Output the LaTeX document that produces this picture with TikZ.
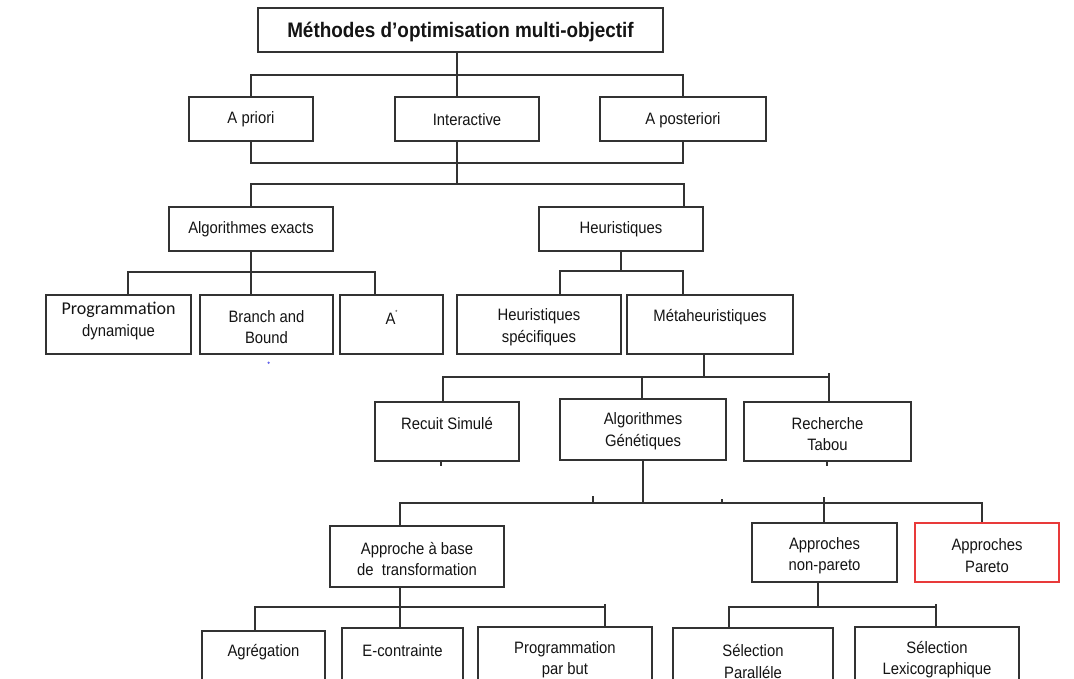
\documentclass[tikz,border=0pt]{standalone}
\usepackage{fontspec}
\setmainfont{Liberation Sans}[FakeStretch=0.9]
\newfontfamily\calib{Carlito}
\usetikzlibrary{calc}
\definecolor{ln}{RGB}{50,50,50}
\definecolor{tx}{RGB}{20,20,20}
\definecolor{redbox}{RGB}{232,58,58}
\definecolor{dotblue}{RGB}{100,100,235}
\tikzset{
  boxst/.style={draw=ln, line width=2pt, rectangle, inner sep=0pt},
  redst/.style={draw=redbox, line width=2pt},
  txt/.style={text=tx, font=\fontsize{16.5}{21.5}\selectfont, align=center, inner sep=0pt},
  conn/.style={draw=ln, line width=2pt},
  stub/.style={draw=ln, line width=1.5pt},
}
% [opts]{name}{x1}{y1}{x2}{y2}{text y}{text}
\newcommand\mkbox[8][]{%
  \node[boxst,#1,minimum width={(#5-#3)*1pt},minimum height={(#6-#4)*1pt}] (#2) at ({(#3+#5)/2},{(#4+#6)/2}) {};
  \node[txt] (#2-t) at ({(#3+#5)/2},#7) {#8};}
\begin{document}
\begin{tikzpicture}[x=1pt,y=-1pt]
\useasboundingbox (0,0) rectangle (1074,679);
\fill[white] (0,0) rectangle (1074,679);
\clip (0,0) rectangle (1074,679);

% boxes
\mkbox{title}{258}{8}{663}{52}{31.5}{\fontsize{21}{24}\selectfont\bfseries Méthodes d’optimisation multi-objectif}
\mkbox{apriori}{189}{97}{313}{141}{119.5}{A priori}
\mkbox{interactive}{395}{97}{539}{141}{119.5}{Interactive}
\mkbox{aposteriori}{600}{97}{766}{141}{120}{A posteriori}
\mkbox{exacts}{169}{207}{333}{251}{229.5}{Algorithmes exacts}
\mkbox{heur}{539}{207}{703}{251}{229.5}{Heuristiques}
\mkbox{progdyn}{46}{295}{191}{354}{321}{\calib\fontsize{18}{25.5}\selectfont Programmation\\dynamique}
\mkbox{branch}{200}{295}{333}{354}{327}{Branch and\\Bound}
\mkbox{aetoile}{340}{295}{443}{354}{317}{A\raisebox{0.6em}{\fontsize{6}{6}\selectfont *}}
\mkbox{hspec}{457}{295}{621}{354}{327}{Heuristiques\\spécifiques}
\mkbox{meta}{627}{295}{793}{354}{317}{Métaheuristiques}
\mkbox{recuit}{375}{402}{519}{461}{424}{Recuit Simulé}
\mkbox{ag}{560}{399}{726}{460}{431}{Algorithmes\\Génétiques}
\mkbox{tabou}{744}{402}{911}{461}{434}{Recherche\\Tabou}
\mkbox{approche}{330}{526}{504}{587}{559}{Approche à base\\de\ \ transformation}
\mkbox{nonpareto}{752}{523}{897}{582}{555.5}{Approches\\non-pareto}
\mkbox[redst]{pareto}{915}{523}{1059}{582}{555.5}{Approches\\Pareto}
\mkbox{agreg}{202}{631}{325}{700}{652.5}{Agrégation}
\mkbox{econt}{342}{628}{463}{700}{651}{E-contrainte}
\mkbox{pbut}{478}{627}{652}{700}{659.5}{Programmation\\par but}
\mkbox{spar}{673}{628}{833}{700}{661.5}{Sélection\\Paralléle}
\mkbox{slex}{855}{627}{1019}{700}{659.5}{Sélection\\Lexicographique}

% junction coordinates
\coordinate (b0) at (457,75);
\coordinate (b1) at (457,163);
\coordinate (b2) at (457,184);
\coordinate (h2) at (684,184);
\coordinate (b3) at (251,272);
\coordinate (b3l) at (128,272);
\coordinate (b3r) at (375,272);
\coordinate (b4) at (621,271);
\coordinate (b4l) at (560,271);
\coordinate (b4r) at (683,271);
\coordinate (b5) at (704,377);
\coordinate (b5l) at (443,377);
\coordinate (b5m) at (642,377);
\coordinate (b5r) at (829,377);
\coordinate (b6) at (643,503);
\coordinate (b6l) at (400,503);
\coordinate (b6m) at (824,503);
\coordinate (b6r) at (982,503);
\coordinate (b7) at (400,607);
\coordinate (b7l) at (255,607);
\coordinate (b7r) at (605,607);
\coordinate (b8) at (818,607);
\coordinate (b8l) at (729,607);
\coordinate (b8r) at (936,607);

% connectors
\draw[conn] (title.south -| b0) -- (interactive.north -| b0);
\draw[conn] (apriori.north -| b3) -- (b3 |- b0) -- (aposteriori.north |- b0) -- (aposteriori.north);
\draw[conn] (apriori.south -| b3) -- (b3 |- b1) -- (aposteriori.south |- b1) -- (aposteriori.south);
\draw[conn] (interactive.south -| b1) -- (b2);
\draw[conn] (exacts.north -| b3) -- (b3 |- b2) -- (h2) -- (heur.north -| h2);
\draw[conn] (exacts.south -| b3) -- (b3);
\draw[conn] (progdyn.north -| b3l) -- (b3l) -- (b3r) -- (aetoile.north -| b3r);
\draw[conn] (b3) -- (branch.north -| b3);
\draw[conn] (heur.south -| b4) -- (b4);
\draw[conn] (hspec.north -| b4l) -- (b4l) -- (b4r) -- (meta.north -| b4r);
\draw[conn] (meta.south -| b5) -- (b5);
\draw[conn] (recuit.north -| b5l) -- (b5l) -- (b5r) -- (tabou.north -| b5r);
\draw[conn] (b5m) -- (ag.north -| b5m);
\draw[conn] (ag.south -| b6) -- (b6);
\draw[conn] (approche.north -| b6l) -- (b6l) -- (b6r) -- (pareto.north -| b6r);
\draw[conn] (b6m) -- (nonpareto.north -| b6m);
\draw[conn] (approche.south -| b7) -- (b7);
\draw[conn] (agreg.north -| b7l) -- (b7l) -- (b7r) -- (pbut.north -| b7r);
\draw[conn] (b7) -- (econt.north -| b7);
\draw[conn] (nonpareto.south -| b8) -- (b8);
\draw[conn] (spar.north -| b8l) -- (b8l) -- (b8r) -- (slex.north -| b8r);

% small stubs
\coordinate (tk1) at (441,466);
\coordinate (tk2) at (827,466);
\coordinate (tk3) at (593,496);
\coordinate (tk4) at (722,499);
\coordinate (tk5) at (824,497);
\coordinate (tk6) at (829,373);
\coordinate (tk7) at (605,604);
\coordinate (tk8) at (936,604);
\draw[stub] (recuit.south -| tk1) -- (tk1);
\draw[stub] (tabou.south -| tk2) -- (tk2);
\draw[stub] (tk3) -- (tk3 |- b6);
\draw[stub] (tk4) -- (tk4 |- b6);
\draw[stub] (tk5) -- (b6m);
\draw[stub] (tk6) -- (b5r);
\draw[stub] (tk7) -- (b7r);
\draw[stub] (tk8) -- (b8r);
\fill[dotblue] (268.6,362.7) circle (1.3pt);
\end{tikzpicture}
\end{document}
